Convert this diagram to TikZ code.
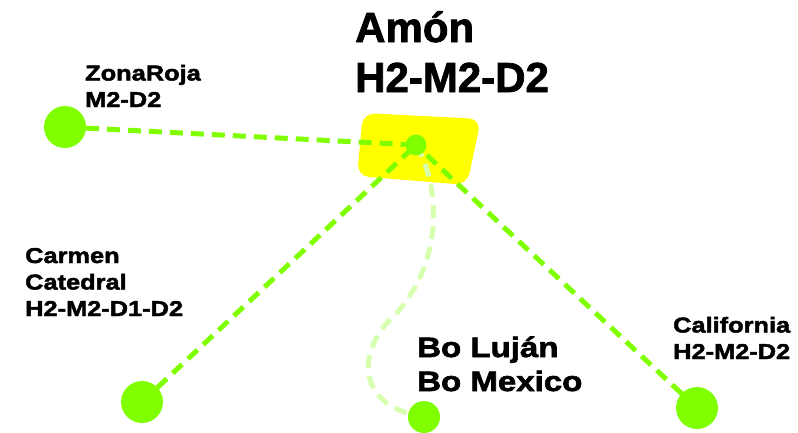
\documentclass[tikz,border=0pt]{standalone}
\usepackage{fontspec}
\setmainfont{Liberation Sans}
\newfontfamily\headface{Liberation Sans}[FakeBold=1.8]
\newfontfamily\tagface{Liberation Sans}[FakeStretch=1.18,FakeBold=2.2]
\usepackage{tikz}
\usetikzlibrary{positioning}
\definecolor{spotgreen}{HTML}{80FF00}
\definecolor{palegreen}{HTML}{D6FFB0}
\definecolor{hubyellow}{HTML}{FFFF00}

\tikzset{
  spot/.style={circle,fill=spotgreen,inner sep=0pt,minimum size=42pt},
  link/.style={draw=spotgreen,line width=5pt,dash pattern=on 13pt off 8pt},
  faintlink/.style={draw=palegreen,line width=5pt,dash pattern=on 13pt off 8pt},
  tag/.style={anchor=base west,inner sep=0pt,align=left,font=\tagface\bfseries\fontsize{21.5}{26.5}\selectfont},
}

\begin{document}
\begin{tikzpicture}[x=1pt,y=-1pt]
  \useasboundingbox (0,0) rectangle (798,432);
  % yellow patch behind the hub
  \fill[hubyellow,rounded corners=12pt]
    (363,113) -- (481,119) -- (467,185) -- (357,176) -- cycle;
  % places
  \coordinate (hubc) at (416,145);
  \coordinate (zonac) at (65,127);
  \coordinate (carmenc) at (142,402);
  \coordinate (boc) at (424,417);
  \coordinate (califc) at (697,408);
  \coordinate (bend) at (395,315);
  % connectors
  \draw[link] (zonac) -- (hubc);
  \draw[link] (carmenc) -- (hubc);
  \draw[link] (califc) -- (hubc);
  \draw[faintlink] (hubc) .. controls (440,185) and (445,260) .. (bend)
    .. controls (360,345) and (350,405) .. (boc);
  % spots
  \node[spot,minimum size=21pt] (hub) at (hubc) {};
  \node[spot] (zona) at (zonac) {};
  \node[spot] (carmen) at (carmenc) {};
  \node[spot,minimum size=32pt] (bo) at (boc) {};
  \node[spot] (calif) at (califc) {};
  % labels (base = last line)
  \node[anchor=base west,inner sep=0pt,align=left,
    font=\headface\bfseries\fontsize{42}{50}\selectfont] (amonlbl) at (355,92)
    {Amón\\H2-M2-D2};
  \node[tag] (zonalbl) at (85,107) {ZonaRoja\\M2-D2};
  \node[tag] (carmenlbl) at (25,316) {Carmen\\Catedral\\H2-M2-D1-D2};
  \node[tag] (califlbl) at (673,359) {California\\H2-M2-D2};
  \node[tag,font=\tagface\bfseries\fontsize{28}{34}\selectfont] (bolbl) at (417,391)
    {Bo Luján\\Bo Mexico};
\end{tikzpicture}
\end{document}
